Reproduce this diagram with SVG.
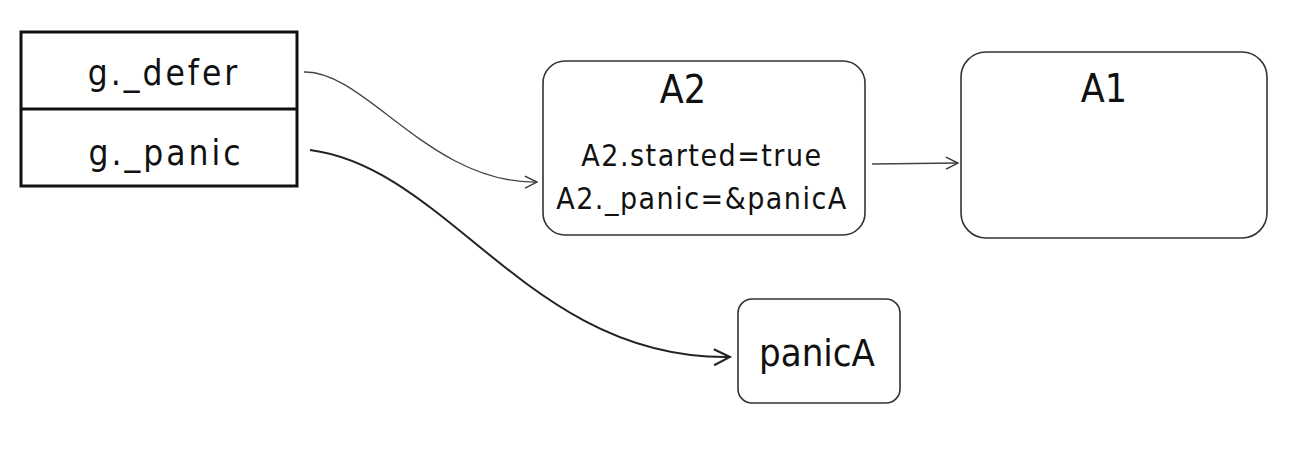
<svg xmlns="http://www.w3.org/2000/svg" width="1294" height="460" viewBox="0 0 1294 460">
<style>
text{font-family:"DejaVu Sans Condensed","DejaVu Sans","Liberation Sans",sans-serif;font-stretch:condensed;fill:#111;text-anchor:middle}
.box{fill:#fff;stroke:#333;stroke-width:1.6}
.tbl{fill:#fff;stroke:#111;stroke-width:3}
.conn{fill:none;stroke:#444;stroke-width:1.3}
.thick{stroke:#222;stroke-width:2}
</style>
<defs>
<marker id="arr" viewBox="0 0 14 14" refX="13" refY="7" markerWidth="14" markerHeight="14" markerUnits="userSpaceOnUse" orient="auto">
<path d="M1,1 L13,7 L1,13" fill="none" stroke="#333" stroke-width="1.4"/>
</marker>
<marker id="arr2" viewBox="0 0 20 20" refX="18" refY="10" markerWidth="20" markerHeight="20" markerUnits="userSpaceOnUse" orient="auto">
<path d="M2,2 L18,10 L2,18" fill="none" stroke="#222" stroke-width="2"/>
</marker>
</defs>
<rect width="1294" height="460" fill="#fff"/>
<g id="g">
<rect class="tbl" x="21" y="32" width="276" height="154"/>
<line x1="21" y1="109" x2="297" y2="109" stroke="#111" stroke-width="3"/>
<text x="164" y="85" font-size="35" letter-spacing="3">g._defer</text>
<text x="166" y="165" font-size="35" letter-spacing="3">g._panic</text>
</g>
<g id="A2">
<rect class="box" x="543" y="61" width="322" height="174" rx="22"/>
<text x="683" y="103" font-size="39">A2</text>
<text x="702" y="166" font-size="30" letter-spacing="1.5">A2.started=true</text>
<text x="702" y="209" font-size="30" letter-spacing="1.5">A2._panic=&amp;panicA</text>
</g>
<g id="A1">
<rect class="box" x="961" y="52" width="306" height="186" rx="25"/>
<text x="1104" y="102" font-size="39">A1</text>
</g>
<g id="panicA">
<rect class="box" x="738" y="299" width="162" height="104" rx="14"/>
<text x="817" y="366" font-size="38">panicA</text>
</g>
<g id="connectors">
<path class="conn" d="M304,72 C365,70 430,184 537,182" marker-end="url(#arr)"/>
<path class="conn thick" d="M310,150 C450,168 530,360 730,357" marker-end="url(#arr2)"/>
<path class="conn" d="M872,164 L958,163" marker-end="url(#arr)"/>
</g>
</svg>
